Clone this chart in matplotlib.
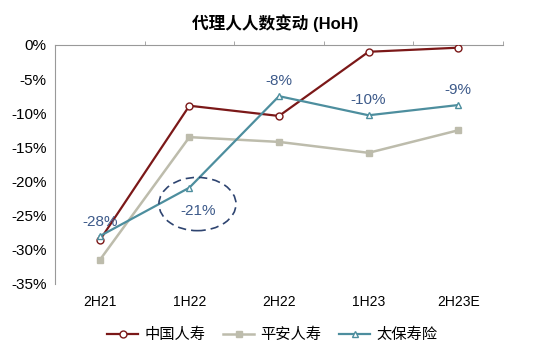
import matplotlib.pyplot as plt
from matplotlib.patches import Ellipse

plt.rcParams['font.family'] = ['Liberation Sans', 'Noto Sans CJK SC']

categories = ['2H21', '1H22', '2H22', '1H23', '2H23E']
china_life = [-28.6, -8.9, -10.4, -1.0, -0.4]
ping_an = [-31.5, -13.5, -14.2, -15.8, -12.5]
cpic = [-28.0, -20.9, -7.5, -10.3, -8.8]
cpic_labels = ['-28%', '-21%', '-8%', '-10%', '-9%']

fig = plt.figure(figsize=(5.5, 3.54), dpi=100)
ax = fig.add_axes([0.1, 0.198, 0.8145, 0.675])

x = range(len(categories))
ax.plot(x, china_life, color='#7B1818', lw=1.6, marker='o', ms=5,
        mfc='white', mec='#7B1818', label='中国人寿', zorder=3)
ax.plot(x, ping_an, color='#BDBCAC', lw=1.8, marker='s', ms=5,
        mfc='#BDBCAC', mec='#BDBCAC', label='平安人寿', zorder=2)
ax.plot(x, cpic, color='#4D8E9E', lw=1.6, marker='^', ms=5,
        mfc='white', mec='#4D8E9E', label='太保寿险', zorder=4)

lab_col = '#3D5A8A'
offsets = [(0, 10), (6, -17), (0, 11), (0, 11), (0, 11)]
for i, (v, t) in enumerate(zip(cpic, cpic_labels)):
    ax.annotate(t, (i, v), xytext=offsets[i], textcoords='offset points',
                ha='center', va='center', color=lab_col, fontsize=11)

ax.add_patch(Ellipse((1.09, -23.3), 0.86, 7.8, fill=False, ec='#2E4470',
                     ls=(0, (5, 3)), lw=1.2, zorder=5))

ax.set_xlim(-0.5, 4.5)
ax.set_ylim(-35, 0)
ax.set_yticks(range(-35, 1, 5))
ax.set_yticklabels([f'{v}%' for v in range(-35, 1, 5)], fontsize=11)
ax.set_xticks(list(x))
ax.set_xticklabels(categories, fontsize=10)
ax.set_xticks([0.5, 1.5, 2.5, 3.5, 4.5], minor=True)
ax.tick_params(axis='x', which='major', length=0, pad=8)
ax.tick_params(axis='x', which='minor', bottom=False, top=True, length=3, color='#999999')
ax.tick_params(axis='y', length=0, pad=6)

for s in ['right', 'bottom']:
    ax.spines[s].set_visible(False)
ax.spines['top'].set_color('#999999')
ax.spines['left'].set_color('#999999')

fig.text(0.5, 0.935, '代理人人数变动 (HoH)', ha='center', va='center',
         fontsize=12, fontweight='bold')

fig.legend(loc='center', bbox_to_anchor=(0.495, 0.054), ncol=3, frameon=False,
           fontsize=11, handlelength=2.0, columnspacing=1.2, handletextpad=0.4)

fig.savefig('out.png', dpi=100)
